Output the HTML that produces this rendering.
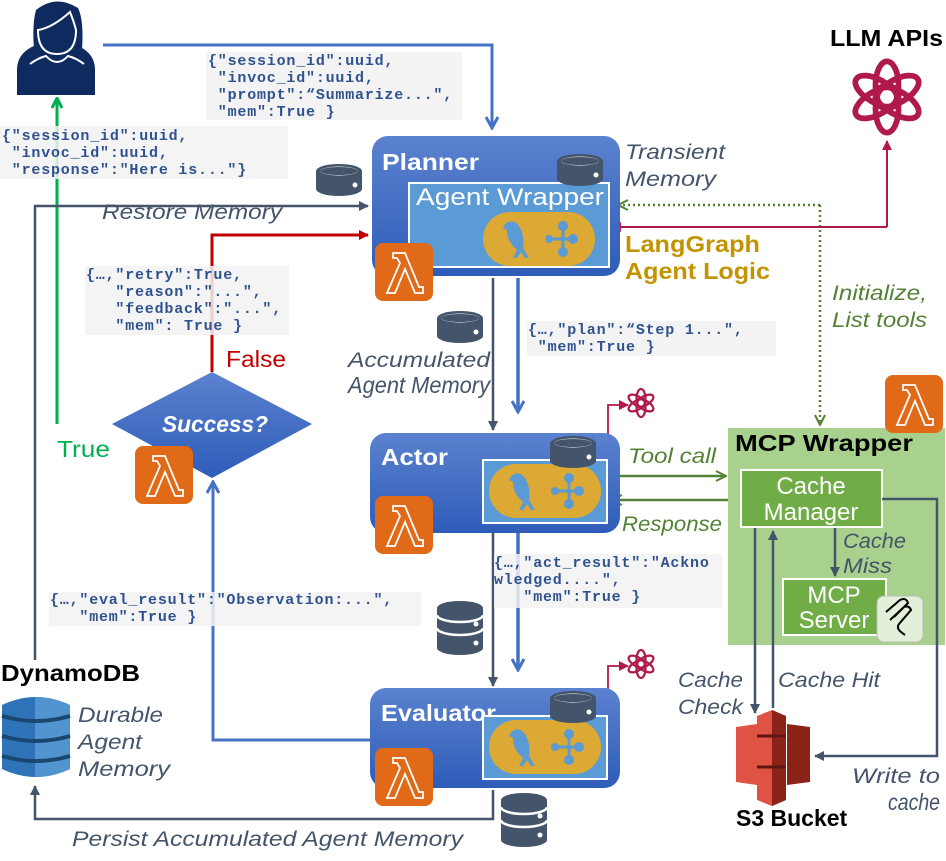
<!DOCTYPE html>
<html><head><meta charset="utf-8"><style>
html,body{margin:0;padding:0;background:#fff;}
svg{display:block;}
.mono{font-family:"Liberation Mono",monospace;font-weight:bold;font-size:15px;letter-spacing:0.8px;fill:#2f528f;}
.lbl{font-family:"Liberation Sans",sans-serif;font-style:italic;font-size:21px;fill:#44546a;}
.big{font-size:23px;}
.grn{font-family:"Liberation Sans",sans-serif;font-style:italic;font-size:21px;fill:#548235;}
.ttl{font-family:"Liberation Sans",sans-serif;font-weight:bold;font-size:23px;fill:#fff;}
.blk{font-family:"Liberation Sans",sans-serif;font-weight:bold;font-size:23px;fill:#000;}
.wt{font-family:"Liberation Sans",sans-serif;font-size:24px;fill:#fff;}
</style></head><body>
<svg width="946" height="861" viewBox="0 0 946 861" xmlns="http://www.w3.org/2000/svg">
<defs>
<linearGradient id="bg" x1="0" y1="0" x2="0" y2="1"><stop offset="0" stop-color="#5b82cf"/><stop offset="1" stop-color="#2e5cb8"/></linearGradient>
<marker id="aBv" markerWidth="14" markerHeight="14" refX="12" refY="7" orient="auto" markerUnits="userSpaceOnUse"><path d="M1,1 L12,7 L1,13" fill="none" stroke="#4472c4" stroke-width="3"/></marker>
<marker id="aG" markerWidth="12" markerHeight="12" refX="11" refY="6" orient="auto" markerUnits="userSpaceOnUse"><path d="M1,1 L11,6 L1,11" fill="none" stroke="#00b050" stroke-width="3"/></marker>
<marker id="aR" markerWidth="10" markerHeight="10" refX="9" refY="5" orient="auto" markerUnits="userSpaceOnUse"><path d="M0,0 L10,5 L0,10 z" fill="#c00000"/></marker>
<marker id="aS" markerWidth="10" markerHeight="10" refX="9" refY="5" orient="auto" markerUnits="userSpaceOnUse"><path d="M0,0 L10,5 L0,10 z" fill="#44546a"/></marker>
<marker id="aC" markerWidth="10" markerHeight="10" refX="9" refY="5" orient="auto" markerUnits="userSpaceOnUse"><path d="M0,0 L10,5 L0,10 z" fill="#b0194b"/></marker>
<marker id="aL" markerWidth="12" markerHeight="12" refX="11" refY="6" orient="auto" markerUnits="userSpaceOnUse"><path d="M1,1 L11,6 L1,11" fill="none" stroke="#548235" stroke-width="2"/></marker>
<g id="lam"><rect x="0" y="0" width="58" height="58" rx="8" fill="#e06a17"/><path d="M18,10 L30,10 L44,44 L48,44 L48,50 L40,50 L30,26 L20,50 L12,50 L25,20 L22,15 L18,15 z" fill="none" stroke="#fff" stroke-width="1.8"/></g>
<g id="db1"><ellipse cx="24" cy="8" rx="23" ry="7" fill="#44546a"/><path d="M1,8 v18 a23,7 0 0 0 46,0 v-18" fill="#44546a"/><ellipse cx="24" cy="8" rx="19" ry="4.5" fill="#fff"/><ellipse cx="24" cy="8" rx="19" ry="4" fill="#44546a"/><circle cx="40" cy="22" r="2.5" fill="#fff"/></g>
<g id="db2"><ellipse cx="24" cy="8" rx="23" ry="7" fill="#44546a"/><path d="M1,8 v40 a23,7 0 0 0 46,0 v-40" fill="#44546a"/><path d="M1,28 a23,7 0 0 0 46,0" fill="none" stroke="#fff" stroke-width="2.5"/><path d="M1,15 a23,7 0 0 0 46,0" fill="none" stroke="#fff" stroke-width="2.5"/><circle cx="40" cy="24" r="2.5" fill="#fff"/><circle cx="40" cy="43" r="2.5" fill="#fff"/></g>
<g id="oai" fill="none" stroke="#b0194b" stroke-width="5"><ellipse cx="0" cy="-10" rx="10" ry="21" transform="rotate(0)"/><ellipse cx="0" cy="-10" rx="10" ry="21" transform="rotate(60)"/><ellipse cx="0" cy="-10" rx="10" ry="21" transform="rotate(120)"/><ellipse cx="0" cy="-10" rx="10" ry="21" transform="rotate(180)"/><ellipse cx="0" cy="-10" rx="10" ry="21" transform="rotate(240)"/><ellipse cx="0" cy="-10" rx="10" ry="21" transform="rotate(300)"/></g>
<g id="lg"><rect x="0" y="0" width="112" height="54" rx="27" fill="#dba934"/><path d="M22,12 q8,-6 14,2 q6,10 4,22 l6,10 l-4,0 l-4,-6 l-4,6 l-4,0 l4,-8 q-10,-8 -10,-20 l-4,-2 z" fill="#5b9bd5"/><circle cx="80" cy="14" r="5" fill="#5b9bd5"/><circle cx="90" cy="27" r="5" fill="#5b9bd5"/><circle cx="80" cy="40" r="5" fill="#5b9bd5"/><circle cx="66" cy="27" r="4" fill="#5b9bd5"/><path d="M66,27 H90 M80,14 V40" stroke="#5b9bd5" stroke-width="3"/></g>
</defs>

<path d="M103,45 H492 V128" fill="none" stroke="#4472c4" stroke-width="3" marker-end="url(#aBv)"/>
<path d="M57,424 V98" fill="none" stroke="#00b050" stroke-width="3" marker-end="url(#aG)"/>
<path d="M35,660 V206 H368" fill="none" stroke="#44546a" stroke-width="2.5" marker-end="url(#aS)"/>
<path d="M212,372 V235 H368" fill="none" stroke="#c00000" stroke-width="3" marker-end="url(#aR)"/>
<path d="M493,278 V430" fill="none" stroke="#44546a" stroke-width="2.5" marker-end="url(#aS)"/>
<path d="M518,278 V412" fill="none" stroke="#4472c4" stroke-width="3.5" marker-end="url(#aBv)"/>
<path d="M493,532 V686" fill="none" stroke="#44546a" stroke-width="2.5" marker-end="url(#aS)"/>
<path d="M518,532 V670" fill="none" stroke="#4472c4" stroke-width="3.5" marker-end="url(#aBv)"/>
<path d="M370,740 H213 V482" fill="none" stroke="#4472c4" stroke-width="3" marker-end="url(#aBv)"/>
<path d="M493,790 V819 H35 V786" fill="none" stroke="#44546a" stroke-width="2.5" marker-end="url(#aS)"/>
<path d="M820,205 H618" fill="none" stroke="#548235" stroke-width="2.5" stroke-dasharray="2,3" marker-end="url(#aL)"/>
<path d="M820,205 V425" fill="none" stroke="#548235" stroke-width="2.5" stroke-dasharray="2,3" marker-end="url(#aL)"/>
<path d="M887,227 H612" fill="none" stroke="#b0194b" stroke-width="2" marker-end="url(#aC)"/>
<path d="M887,227 V141" fill="none" stroke="#b0194b" stroke-width="2" marker-end="url(#aC)"/>
<path d="M608,476 V405 H628" fill="none" stroke="#b0194b" stroke-width="1.8" marker-end="url(#aC)"/>
<path d="M608,732 V666 H628" fill="none" stroke="#b0194b" stroke-width="1.8" marker-end="url(#aC)"/>
<path d="M609,476 H726" fill="none" stroke="#548235" stroke-width="2.5" marker-end="url(#aL)"/>
<path d="M742,500 H612" fill="none" stroke="#548235" stroke-width="2.5" marker-end="url(#aL)"/>

<rect x="206" y="52" width="256" height="68" fill="#f2f2f2" opacity="0.9"/>
<text class="mono"><tspan x="208" y="65">{"session_id":uuid,</tspan><tspan x="208" y="82"> "invoc_id":uuid,</tspan><tspan x="208" y="99"> "prompt":“Summarize...",</tspan><tspan x="208" y="116"> "mem":True }</tspan></text>
<rect x="0" y="126" width="288" height="53" fill="#f2f2f2" opacity="0.85"/>
<text class="mono"><tspan x="2" y="140">{"session_id":uuid,</tspan><tspan x="2" y="157"> "invoc_id":uuid,</tspan><tspan x="2" y="174"> "response":"Here is..."}</tspan></text>
<rect x="85" y="266" width="204" height="69" fill="#f2f2f2" opacity="0.85"/>
<text class="mono" xml:space="preserve"><tspan x="86" y="279">{…,"retry":True,</tspan><tspan x="86" y="296">   "reason":"...",</tspan><tspan x="86" y="313">   "feedback":"...",</tspan><tspan x="86" y="330">   "mem": True }</tspan></text>
<rect x="527" y="321" width="249" height="35" fill="#f2f2f2" opacity="0.9"/>
<text class="mono"><tspan x="528" y="334">{…,"plan":“Step 1...",</tspan><tspan x="528" y="351"> "mem":True }</tspan></text>
<rect x="494" y="554" width="228" height="54" fill="#f2f2f2" opacity="0.85"/>
<text class="mono" xml:space="preserve"><tspan x="494" y="567">{…,"act_result":"Ackno</tspan><tspan x="494" y="584">wledged....",</tspan><tspan x="494" y="601">   "mem":True }</tspan></text>
<rect x="49" y="592" width="372" height="34" fill="#f2f2f2" opacity="0.85"/>
<text class="mono" xml:space="preserve"><tspan x="50" y="604">{…,"eval_result":"Observation:...",</tspan><tspan x="50" y="621">   "mem":True }</tspan></text>

<g fill="#0f2a5e"><path d="M17,95 V70 q0,-22 30,-28 h18 q30,6 30,28 V95 z"/><path d="M36,10 q20,-16 42,-2 q6,12 4,42 q-6,6 -10,4 l-28,0 q-6,2 -10,-4 q-2,-26 2,-40 z"/></g>
<path d="M38,30 q14,-2 32,-18 q4,10 6,18 q0,24 -19,24 q-19,0 -19,-24 z" fill="#0f2a5e" stroke="#fff" stroke-width="2"/>
<path d="M30,64 q8,-6 16,-8 q11,12 22,0 q8,2 16,8" fill="none" stroke="#fff" stroke-width="2"/>

<rect x="372" y="136" width="248" height="140" rx="16" fill="url(#bg)"/>
<text class="ttl" x="382" y="170" textLength="97" lengthAdjust="spacingAndGlyphs">Planner</text>
<rect x="409" y="183" width="200" height="84" fill="#5b9bd5" stroke="#fff" stroke-width="2"/>
<text class="wt" x="416" y="205" textLength="188" lengthAdjust="spacingAndGlyphs">Agent Wrapper</text>
<use href="#lg" x="483" y="212"/>
<use href="#db1" x="556" y="153"/>
<use href="#lam" x="375" y="243"/>

<rect x="370" y="433" width="250" height="100" rx="16" fill="url(#bg)"/>
<text class="ttl" x="381" y="465" textLength="67" lengthAdjust="spacingAndGlyphs">Actor</text>
<rect x="483" y="460" width="124" height="63" fill="#5b9bd5" stroke="#fff" stroke-width="2"/>
<use href="#lg" x="489" y="464"/>
<use href="#db1" x="549" y="435"/>
<use href="#lam" x="375" y="496"/>

<rect x="370" y="688" width="250" height="100" rx="16" fill="url(#bg)"/>
<text class="ttl" x="381" y="721" textLength="115" lengthAdjust="spacingAndGlyphs">Evaluator</text>
<rect x="483" y="716" width="124" height="63" fill="#5b9bd5" stroke="#fff" stroke-width="2"/>
<use href="#lg" x="489" y="720"/>
<use href="#db1" x="549" y="690"/>
<use href="#lam" x="375" y="748"/>

<path d="M212,372 L312,424 L212,478 L112,424 z" fill="url(#bg)"/>
<text x="162" y="432" textLength="106" lengthAdjust="spacingAndGlyphs" font-family="Liberation Sans,sans-serif" font-weight="bold" font-style="italic" font-size="23" fill="#fff">Success?</text>
<use href="#lam" x="135" y="446"/>
<text x="57" y="457" textLength="53" lengthAdjust="spacingAndGlyphs" font-family="Liberation Sans,sans-serif" font-size="23" fill="#00b050">True</text>
<text x="226" y="367" textLength="60" lengthAdjust="spacingAndGlyphs" font-family="Liberation Sans,sans-serif" font-size="23" fill="#c00000">False</text>

<use href="#db1" x="315" y="163"/>
<text class="lbl" x="102" y="219" textLength="180" lengthAdjust="spacingAndGlyphs">Restore Memory</text>
<text class="lbl" x="625" y="159" textLength="100" lengthAdjust="spacingAndGlyphs">Transient</text><text class="lbl" x="625" y="186" textLength="91" lengthAdjust="spacingAndGlyphs">Memory</text>
<text x="625" y="252" textLength="135" lengthAdjust="spacingAndGlyphs" font-family="Liberation Sans,sans-serif" font-weight="bold" font-size="23" fill="#c39300">LangGraph</text>
<text x="625" y="279" textLength="145" lengthAdjust="spacingAndGlyphs" font-family="Liberation Sans,sans-serif" font-weight="bold" font-size="23" fill="#c39300">Agent Logic</text>
<text class="grn" x="832" y="300" textLength="95" lengthAdjust="spacingAndGlyphs">Initialize,</text><text class="grn" x="832" y="327" textLength="95" lengthAdjust="spacingAndGlyphs">List tools</text>
<use href="#db1" x="436" y="310"/>
<text class="lbl" x="348" y="367" textLength="142" lengthAdjust="spacingAndGlyphs">Accumulated</text>
<text class="lbl big" x="348" y="393" textLength="142" lengthAdjust="spacingAndGlyphs">Agent Memory</text>
<use href="#db2" x="436" y="600"/>
<use href="#db2" x="500" y="792"/>
<text class="grn" x="628" y="463" textLength="88" lengthAdjust="spacingAndGlyphs">Tool call</text>
<text class="grn" x="622" y="531" textLength="100" lengthAdjust="spacingAndGlyphs">Response</text>
<text class="lbl" x="72" y="846" textLength="391" lengthAdjust="spacingAndGlyphs">Persist Accumulated Agent Memory</text>

<text class="blk" x="830" y="46" textLength="113" lengthAdjust="spacingAndGlyphs">LLM APIs</text>
<use href="#oai" transform="translate(887,97) scale(1.15)"/>
<use href="#oai" transform="translate(641,403) scale(0.45)"/>
<use href="#oai" transform="translate(641,664) scale(0.45)"/>

<rect x="728" y="428" width="217" height="217" fill="#a9d18e"/>
<use href="#lam" x="885" y="375"/>
<text class="blk" x="735" y="451" textLength="178" lengthAdjust="spacingAndGlyphs">MCP Wrapper</text>
<rect x="741" y="470" width="141" height="57" fill="#70ad47" stroke="#fff" stroke-width="2"/>
<text class="wt" x="811" y="494" text-anchor="middle">Cache</text>
<text class="wt" x="811" y="520" text-anchor="middle">Manager</text>
<rect x="783" y="579" width="103" height="56" fill="#70ad47" stroke="#fff" stroke-width="2"/>
<text class="wt" x="834" y="603" text-anchor="middle">MCP</text>
<text class="wt" x="834" y="628" text-anchor="middle">Server</text>
<rect x="877" y="596" width="46" height="46" rx="7" fill="#e2efd9" stroke="#bbb"/>
<path d="M886,612 l14,-12 q6,-3 8,3 l-14,14 M890,620 l14,-13 q5,-2 7,3 l-12,14 q-3,4 2,8 l4,3" fill="none" stroke="#000" stroke-width="2"/>
<text class="lbl" x="843" y="548" textLength="63" lengthAdjust="spacingAndGlyphs">Cache</text>
<text class="lbl" x="843" y="573" textLength="49" lengthAdjust="spacingAndGlyphs">Miss</text>
<path d="M835,528 V576" stroke="#44546a" stroke-width="2.5" marker-end="url(#aS)"/>
<path d="M755,528 V713" stroke="#44546a" stroke-width="2.5" marker-end="url(#aS)"/>
<path d="M773,708 V531" stroke="#44546a" stroke-width="2.5" marker-end="url(#aS)"/>
<path d="M882,499 H937 V756 H815" fill="none" stroke="#44546a" stroke-width="2.5" marker-end="url(#aS)"/>
<text class="lbl" x="678" y="687" textLength="65" lengthAdjust="spacingAndGlyphs">Cache</text><text class="lbl" x="678" y="714" textLength="65" lengthAdjust="spacingAndGlyphs">Check</text>
<text class="lbl" x="778" y="687" textLength="102" lengthAdjust="spacingAndGlyphs">Cache Hit</text>
<text class="lbl" x="852" y="783" textLength="88" lengthAdjust="spacingAndGlyphs">Write to</text><text class="lbl big" x="888" y="810" textLength="52" lengthAdjust="spacingAndGlyphs">cache</text>

<g><path d="M736,727 L757,724 V785 L736,782 z" fill="#e05243"/><path d="M810,727 L787,724 V785 L810,782 z" fill="#8c2318"/><path d="M757,716 L772,710 L786,716 V800 L772,806 L757,800 z" fill="#e05243"/><path d="M772,710 L786,716 V800 L772,806 z" fill="#8c2318"/><path d="M757,736 H786 M757,767 H786" stroke="#5e1710" stroke-width="3"/></g>
<text class="blk" x="736" y="826">S3 Bucket</text>

<text class="blk" x="1" y="681" textLength="139" lengthAdjust="spacingAndGlyphs">DynamoDB</text>
<g><path d="M2,705 q34,-16 68,0 v64 q-34,16 -68,0 z" fill="#2e73b8"/><path d="M35,697 q18,0 35,8 v64 q-17,8 -35,8 z" fill="#5294cf"/><path d="M2,716 q34,10 68,0 M2,736 q34,10 68,0 M2,756 q34,10 68,0" fill="none" stroke="#1a476f" stroke-width="4"/></g>
<text class="lbl" x="78" y="722" textLength="85" lengthAdjust="spacingAndGlyphs">Durable</text><text class="lbl" x="78" y="749" textLength="64" lengthAdjust="spacingAndGlyphs">Agent</text><text class="lbl" x="78" y="776" textLength="92" lengthAdjust="spacingAndGlyphs">Memory</text>
</svg>
</body></html>
